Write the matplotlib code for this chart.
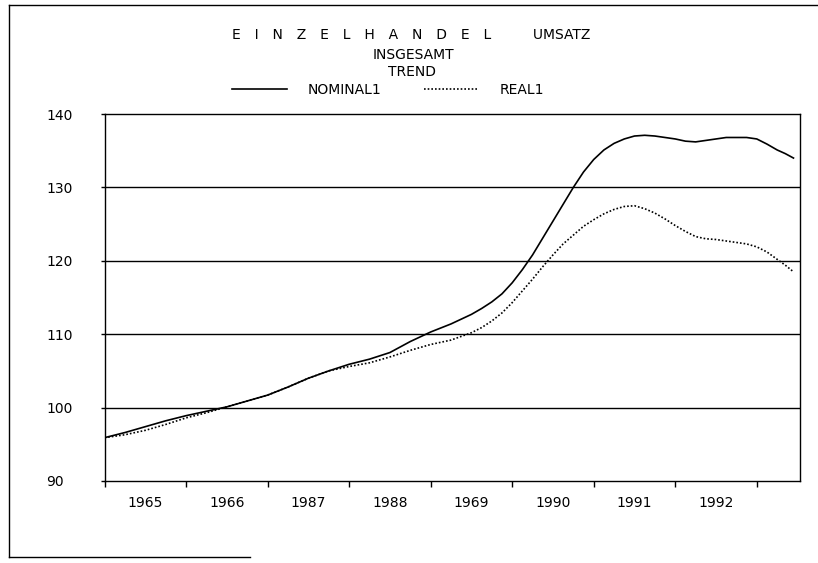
import matplotlib.pyplot as plt
from matplotlib.lines import Line2D

# points (denser where the curves bend)
quarters = [1985.00, 1985.25, 1985.50, 1985.75, 1986.00, 1986.25, 1986.50, 1986.75,
            1987.00, 1987.25, 1987.50, 1987.75, 1988.00, 1988.25, 1988.50, 1988.75,
            1989.00, 1989.25, 1989.50, 1989.625, 1989.75, 1989.875, 1990.00, 1990.125,
            1990.25, 1990.375, 1990.50, 1990.625, 1990.75, 1990.875, 1991.00, 1991.125,
            1991.25, 1991.375, 1991.50, 1991.625, 1991.75, 1991.875, 1992.00, 1992.125,
            1992.25, 1992.375, 1992.50, 1992.625, 1992.75, 1992.875, 1993.00, 1993.125,
            1993.25, 1993.35, 1993.45]
nominal = [95.9, 96.6, 97.4, 98.2, 98.9, 99.5, 100.1, 100.9,
           101.7, 102.8, 104.0, 105.0, 105.9, 106.6, 107.5, 109.0,
           110.3, 111.4, 112.7, 113.5, 114.4, 115.5, 117.0, 118.8,
           120.8, 123.1, 125.4, 127.7, 130.0, 132.1, 133.8, 135.1,
           136.0, 136.6, 137.0, 137.1, 137.0, 136.8, 136.6, 136.3,
           136.2, 136.4, 136.6, 136.8, 136.8, 136.8, 136.6, 135.9,
           135.1, 134.6, 134.0]
real = [95.9, 96.3, 96.9, 97.7, 98.6, 99.3, 100.1, 100.9,
        101.7, 102.8, 104.0, 105.0, 105.6, 106.1, 106.9, 107.8,
        108.6, 109.2, 110.2, 110.9, 111.8, 112.9, 114.3, 115.9,
        117.5, 119.2, 120.8, 122.3, 123.5, 124.7, 125.6, 126.4,
        127.0, 127.4, 127.5, 127.1, 126.5, 125.7, 124.8, 124.0,
        123.3, 123.0, 122.9, 122.7, 122.5, 122.3, 121.9, 121.2,
        120.2, 119.4, 118.5]

year_bounds = [1985, 1986, 1987, 1988, 1989, 1990, 1991, 1992, 1993]
label_pos = [1985.5, 1986.5, 1987.5, 1988.5, 1989.5, 1990.5, 1991.5, 1992.5]
year_labels = ["1965", "1966", "1987", "1988", "1969", "1990", "1991", "1992"]
y_ticks = [90, 100, 110, 120, 130, 140]

W, H = 818, 563
fig = plt.figure(figsize=(W / 100, H / 100), dpi=100)
plt.rcParams['font.family'] = 'DejaVu Sans'

ax = fig.add_axes([104.5 / W, 1 - 481 / H, (800 - 104.5) / W, (481 - 114) / H])

ax.plot(quarters, nominal, color='black', lw=1.2, label='NOMINAL1')
ax.plot(quarters, real, color='black', lw=1.2, linestyle=(0, (1, 1.2)), label='REAL1')

ax.set_xlim(1985.0, 1993.53)
ax.set_ylim(90, 140)

# horizontal grid
for v in y_ticks[1:-1]:
    ax.axhline(v, color='black', lw=1.0, zorder=1)

for s in ax.spines.values():
    s.set_color('black')
    s.set_linewidth(1.0)

ax.set_yticks(y_ticks)
ax.tick_params(axis='y', direction='out', length=3, width=1, pad=39, labelsize=10)
for lab in ax.get_yticklabels():
    lab.set_horizontalalignment('left')

ax.set_xticks(year_bounds)
ax.set_xticklabels([])
ax.tick_params(axis='x', which='major', direction='out', length=4, width=1)
ax.set_xticks(label_pos, minor=True)
ax.set_xticklabels(year_labels, minor=True)
ax.tick_params(axis='x', which='minor', length=0, pad=11, labelsize=10)

# titles
sp = '\u2003'
fig.text(411 / W, 1 - 35 / H, sp.join('EINZELHANDEL') + sp * 3 + 'UMSATZ',
         ha='center', va='center', fontsize=10)
fig.text(413 / W, 1 - 55 / H, 'INSGESAMT', ha='center', va='center', fontsize=10)
fig.text(412 / W, 1 - 72 / H, 'TREND', ha='center', va='center', fontsize=10)

fig.legend(loc='center', bbox_to_anchor=(388 / W, 1 - 90 / H), ncol=2, frameon=False,
           fontsize=10, handlelength=3.96, handletextpad=1.44, columnspacing=3.1)

# outer frame of the scanned page
fig.add_artist(Line2D([9 / W, 1.0], [1 - 5 / H, 1 - 5 / H], transform=fig.transFigure, color='black', lw=1))
fig.add_artist(Line2D([9 / W, 9 / W], [1 - 5 / H, 1 - 557 / H], transform=fig.transFigure, color='black', lw=1))
fig.add_artist(Line2D([9 / W, 250 / W], [1 - 557 / H, 1 - 557 / H], transform=fig.transFigure, color='black', lw=1))

fig.savefig('out.png', dpi=100)
